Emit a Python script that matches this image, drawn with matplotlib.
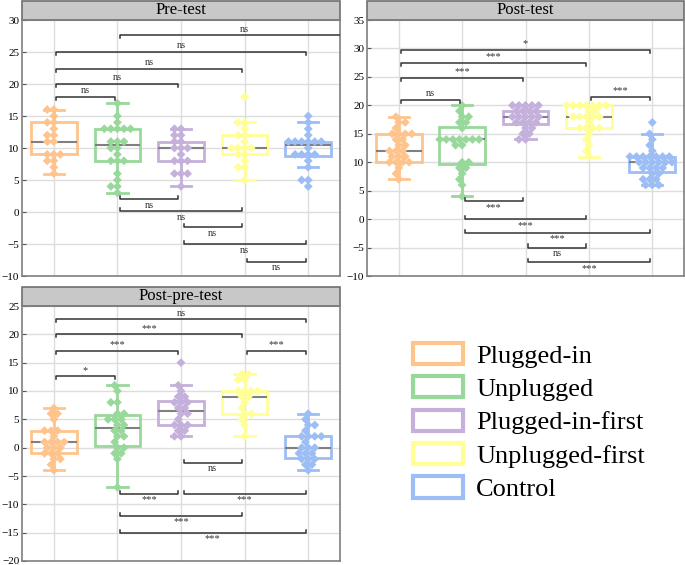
import numpy as np
import pandas as pd
import matplotlib
matplotlib.use("Agg")
import matplotlib.pyplot as plt
from matplotlib.patches import Rectangle, Patch
import seaborn as sns

groups = ["Plugged-in", "Unplugged", "Plugged-in-first", "Unplugged-first", "Control"]
colors = ["#ffc38c", "#98d89a", "#c4b0db", "#ffff96", "#9dbdf5"]

# Pre-test scores
pre_plugged_in = [6, 7, 8, 8, 9, 9, 9, 11, 11, 12, 12, 13, 14, 14, 15, 16, 16]
pre_unplugged = [3, 4, 4, 5, 6, 8, 8, 8, 9, 10, 10, 11, 11, 11, 13, 13, 13, 13, 13, 14, 15, 17]
pre_plugged_first = [4, 6, 6, 6, 8, 8, 8, 9, 10, 10, 10, 11, 11, 12, 12, 13, 13]
pre_unplugged_first = [5, 7, 7, 8, 9, 9, 10, 10, 10, 10, 11, 12, 12, 13, 14, 14, 18]
pre_control = [4, 5, 5, 7, 8, 9, 9, 9, 9, 10, 11, 11, 11, 11, 11, 11, 12, 13, 14, 15]

# Post-test scores
post_plugged_in = [7, 8, 9, 10, 10, 10, 10, 11, 11, 11, 12, 12, 12, 13, 13, 14, 14,
                   15, 15, 15, 15, 16, 17, 17, 18]
post_unplugged = [4, 6, 7, 8, 9, 9, 10, 10, 13, 13, 14, 14, 14, 14, 14, 14, 14,
                  16, 17, 17, 18, 18, 19, 20]
post_plugged_first = [14, 14, 15, 15, 16, 16, 17, 17, 17, 17, 18, 18, 18, 18, 18,
                      19, 19, 19, 19, 20, 20, 20, 20, 20]
post_unplugged_first = [11, 12, 13, 14, 15, 16, 16, 16, 16, 17, 18, 18, 18, 18, 18,
                        19, 19, 20, 20, 20, 20, 20, 20, 20]
post_control = [6, 6, 6, 7, 7, 7, 8, 8, 9, 9, 9, 9, 10, 10, 10, 10, 10, 10, 11, 11,
                11, 11, 11, 11, 11, 12, 13, 14, 15, 17]

# Post - pre differences
diff_plugged_in = [-4, -3, -2, -2, -1, -1, -1, 0, 0, 0, 1, 1, 1, 1, 2, 3, 3, 3, 5, 6, 6, 7]
diff_unplugged = [-7, -2, -1, -1, 0, 0, 1, 2, 2, 3, 3, 4, 4, 5, 5, 5, 6, 6, 8, 8, 10, 11]
diff_plugged_first = [2, 2, 3, 3, 4, 4, 4, 5, 6, 6, 7, 7, 8, 8, 8, 9, 9, 10, 11, 15]
diff_unplugged_first = [2, 4, 5, 6, 6, 7, 8, 9, 9, 10, 10, 10, 10, 12, 12, 13, 13]
diff_control = [-4, -3, -3, -2, -2, -2, -1, -1, -1, 0, 0, 0, 1, 2, 2, 2, 2, 3, 4, 4, 5, 6]

# significance brackets: (group a, group b, level, label, above/below)
pre_pairs = [(0, 1, 18, "ns", 1), (0, 2, 20, "ns", 1), (0, 3, 22.4, "ns", 1),
             (0, 4, 25, "ns", 1), (1, 5, 27.6, "ns", 1),
             (1, 2, 2, "ns", 0), (1, 3, 0.1, "ns", 0), (2, 3, -2.4, "ns", 0),
             (2, 4, -5, "ns", 0), (3, 4, -7.8, "ns", 0)]
post_pairs = [(0, 1, 21, "ns", 1), (0, 2, 24.8, "***", 1), (0, 3, 27.5, "***", 1),
              (0, 4, 29.8, "*", 1), (3, 4, 21.5, "***", 1),
              (1, 2, 3.1, "***", 0), (1, 3, 0, "***", 0), (1, 4, -2.4, "***", 0),
              (2, 3, -5, "ns", 0), (2, 4, -7.6, "***", 0)]
diff_pairs = [(0, 4, 22.7, "ns", 1), (0, 3, 20, "***", 1), (0, 2, 17.1, "***", 1),
              (0, 1, 12.6, "*", 1), (3, 4, 17.1, "***", 1),
              (2, 3, -2.7, "ns", 0), (1, 2, -8.1, "***", 0), (2, 4, -8.1, "***", 0),
              (1, 3, -12, "***", 0), (1, 4, -15, "***", 0)]

plt.rcParams['font.family'] = ['Liberation Serif', 'DejaVu Serif']


def bracket(ax, a, b, y, label, above, tick):
    x0, x1 = a + 0.04, b - 0.04
    if above:
        ax.plot([x0, x0, x1, x1], [y - tick, y, y, y - tick], color='#333333', lw=1.1,
                clip_on=True, zorder=5)
        ax.text((a + b) / 2, y + tick * 0.5, label, ha='center', va='bottom',
                fontsize=7.5, color='#333333', clip_on=True)
    else:
        ax.plot([x0, x0, x1, x1], [y + tick, y, y, y + tick], color='#333333', lw=1.1,
                clip_on=True, zorder=5)
        ax.text((a + b) / 2, y - tick * 0.5, label, ha='center', va='top',
                fontsize=7.5, color='#333333', clip_on=True)


def draw_panel(ax, data, title, ylim, step, pairs):
    ax.set_axisbelow(True)
    bp = ax.boxplot(data, positions=range(5), widths=0.72, showfliers=False,
                    patch_artist=True, capwidths=0.32)
    for k, c in enumerate(colors):
        bp['boxes'][k].set(facecolor='none', edgecolor=c, linewidth=2)
        for w in bp['whiskers'][2 * k:2 * k + 2]:
            w.set(color=c, linewidth=2)
        for cp in bp['caps'][2 * k:2 * k + 2]:
            cp.set(color=c, linewidth=2)
        bp['medians'][k].set(color='#808080', linewidth=1.5)

    df = pd.DataFrame({'group': np.repeat(groups, [len(d) for d in data]),
                       'score': np.concatenate(data)})
    sns.swarmplot(data=df, x='group', y='score', hue='group', order=groups,
                  palette=dict(zip(groups, colors)), marker='D', size=4.5,
                  linewidth=0, ax=ax, legend=False, zorder=3, warn_thresh=1)

    tick = 0.012 * (ylim[1] - ylim[0])
    for a, b, y, label, above in pairs:
        bracket(ax, a, b, y, label, above, tick)

    ax.set_xlim(-0.5, 4.5)
    ax.set_ylim(*ylim)
    ax.set_yticks(np.arange(ylim[0], ylim[1] + 1, step))
    ax.set_xticks(range(5))
    ax.set_xticklabels([])
    ax.set_xlabel('')
    ax.set_ylabel('')
    ax.tick_params(axis='x', length=0)
    ax.tick_params(axis='y', direction='in', length=3, color='#555555',
                   labelsize=8, pad=2)
    ax.grid(True, color='#dddddd', linewidth=1)
    for s in ax.spines.values():
        s.set_color('#7f7f7f')
        s.set_linewidth(1.2)

    h = 19 / (ax.get_position().height * 565)
    ax.add_patch(Rectangle((0, 1), 1, h, transform=ax.transAxes, clip_on=False,
                           facecolor='#c8c8c8', edgecolor='#6f6f6f', linewidth=1.2))
    ax.text(0.5, 1 + h / 2, title, transform=ax.transAxes, ha='center', va='center',
            fontsize=12)


fig = plt.figure(figsize=(6.85, 5.65), dpi=100)
W, H = 685, 565
ax1 = fig.add_axes([22 / W, 1 - 276 / H, 318 / W, 256 / H])
ax2 = fig.add_axes([367 / W, 1 - 276 / H, 317 / W, 256 / H])
ax3 = fig.add_axes([22 / W, 1 - 561 / H, 318 / W, 255 / H])

draw_panel(ax1, [pre_plugged_in, pre_unplugged, pre_plugged_first, pre_unplugged_first,
                 pre_control], "Pre-test", (-10, 30), 5, pre_pairs)
draw_panel(ax2, [post_plugged_in, post_unplugged, post_plugged_first, post_unplugged_first,
                 post_control], "Post-test", (-10, 35), 5, post_pairs)
draw_panel(ax3, [diff_plugged_in, diff_unplugged, diff_plugged_first, diff_unplugged_first,
                 diff_control], "Post-pre-test", (-20, 25), 5, diff_pairs)

handles = [Patch(facecolor='white', edgecolor=c, linewidth=3) for c in colors]
fig.legend(handles, groups, loc='upper left', bbox_to_anchor=(413 / W, 1 - 343 / H),
           frameon=False, fontsize=19, handlelength=1.9, handleheight=0.85,
           handletextpad=0.5, labelspacing=0.33, borderpad=0, borderaxespad=0)

fig.savefig("out.png", dpi=100)
